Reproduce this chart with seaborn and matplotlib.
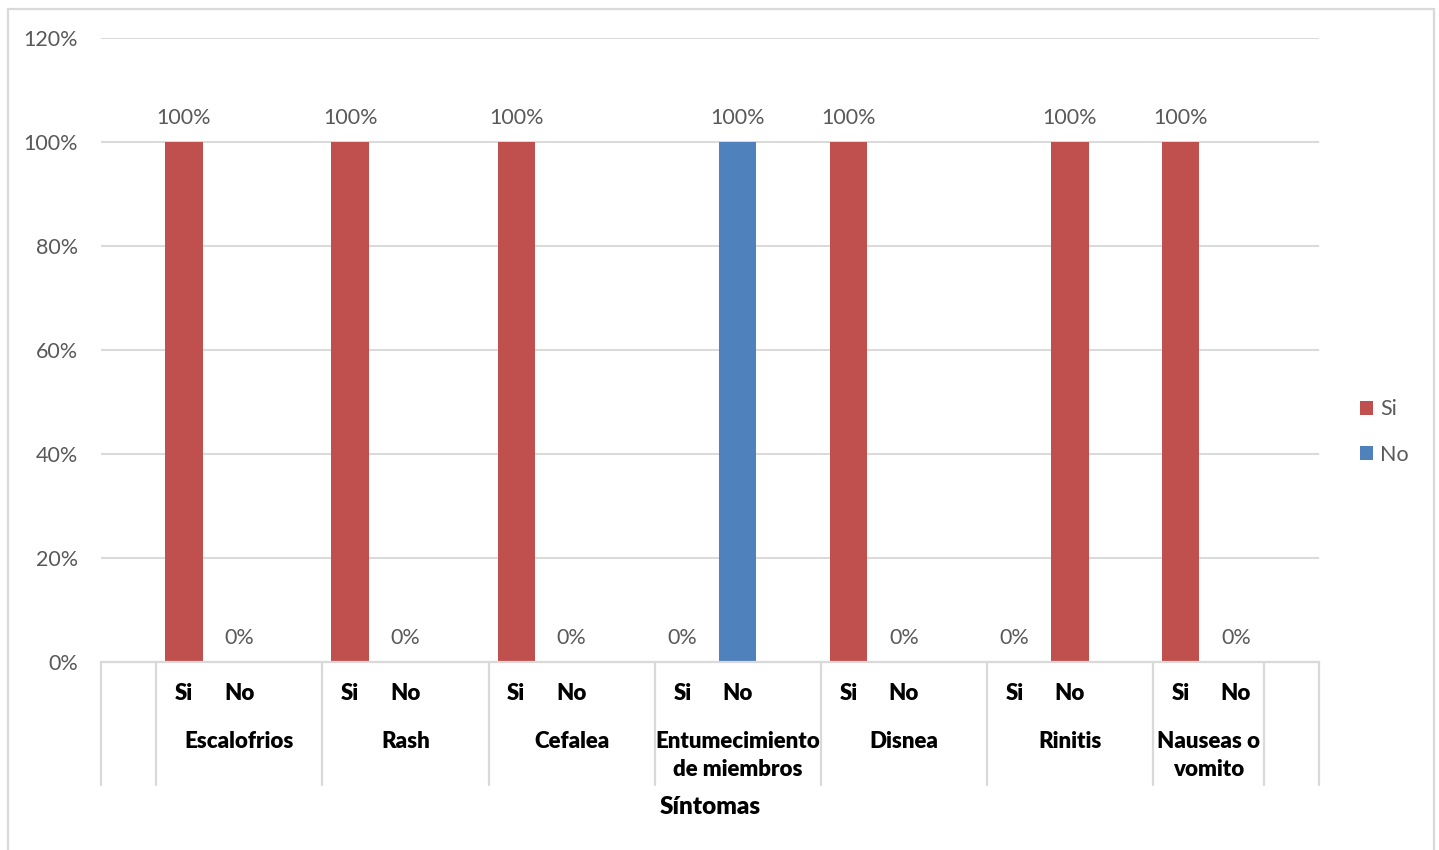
import matplotlib
matplotlib.use("Agg")
import matplotlib.pyplot as plt
import matplotlib.transforms as mtransforms
from matplotlib.patches import Patch, Rectangle
from matplotlib.lines import Line2D
import pandas as pd
import seaborn as sns

# ---- data ---------------------------------------------------------------
sintomas = ["Escalofrios", "Rash", "Cefalea", "Entumecimiento\nde miembros",
            "Disnea", "Rinitis", "Nauseas o\nvomito"]
respuestas = ["Si", "No"]
# percentage for every (síntoma, respuesta) pair, one list per series
serie_si = [100, 0, 100, 0, 100, 0, 0, 0, 100, 0, 0, 100, 100, 0]
serie_no = [0, 0, 0, 0, 0, 0, 0, 100, 0, 0, 0, 0, 0, 0]
y_ticks = [0, 20, 40, 60, 80, 100, 120]
series = ["Si", "No"]
colores = {"Si": "#C0504D", "No": "#4F81BD"}

# ---- layout helpers -----------------------------------------------------
W, H = 1439, 850
AX_L, AX_R, AX_T, AX_B = 101, 1319, 38, 662
N_SLOTS = 22  # one blank slot before each group and one at the end


def slot_of(i, j):
    return 1 + 3 * i + j


rows = []
for i, s in enumerate(sintomas):
    for j, r in enumerate(respuestas):
        k = 2 * i + j
        rows.append({"pos": slot_of(i, j), "serie": "Si", "valor": serie_si[k]})
        rows.append({"pos": slot_of(i, j), "serie": "No", "valor": serie_no[k]})
df = pd.DataFrame(rows)

sns.set_theme(style="white")
plt.rcParams["font.family"] = ["Lato", "DejaVu Sans"]

GRIS_TXT = "#595959"
GRIS_LIN = "#D9D9D9"
FS = 15.5      # regular labels
FS_B = 16      # bold category labels
PESO = "heavy"

fig = plt.figure(figsize=(W / 100, H / 100), dpi=100)
ax = fig.add_axes([AX_L / W, 1 - AX_B / H, (AX_R - AX_L) / W, (AX_B - AX_T) / H])

sns.barplot(data=df, x="pos", y="valor", hue="serie", hue_order=series,
            palette=colores, dodge=False, native_scale=True, width=0.674,
            saturation=1, legend=False, ax=ax, errorbar=None, linewidth=0)

ax.set_xlim(-0.5, N_SLOTS - 0.5)
ax.set_ylim(0, 120)
ax.set_yticks(y_ticks)
ax.set_yticklabels([f"{v}%" for v in y_ticks], color=GRIS_TXT, fontsize=FS)
ax.tick_params(axis="y", length=0, pad=16.5)
ax.set_xticks([])
ax.set_xlabel("")
ax.set_ylabel("")
ax.yaxis.grid(True, color=GRIS_LIN, linewidth=1.4)
ax.set_axisbelow(True)
for side in ["left", "right", "top"]:
    ax.spines[side].set_visible(False)
ax.spines["bottom"].set_color(GRIS_LIN)
ax.spines["bottom"].set_linewidth(1.6)

# value labels above each sub-category
for i in range(len(sintomas)):
    for j in range(len(respuestas)):
        k = 2 * i + j
        v = serie_si[k] + serie_no[k]
        ax.text(slot_of(i, j), v + 4.6, f"{v}%", ha="center", va="center",
                fontsize=FS, color=GRIS_TXT)


def ay(py):
    """Pixel row below the plot to axes-fraction y."""
    return (AX_B - py) / (AX_B - AX_T)


trans = mtransforms.blended_transform_factory(ax.transData, ax.transAxes)

# group boundaries of the two-level category axis
bordes = [slot_of(i, 0) - 0.5 for i in range(len(sintomas))] + \
    [slot_of(len(sintomas) - 1, 1) + 0.5]
separadores = [-0.5] + bordes + [N_SLOTS - 0.5]

for i, s in enumerate(sintomas):
    for j, r in enumerate(respuestas):
        ax.text(slot_of(i, j), ay(694), r, transform=trans, ha="center",
                va="center", fontsize=FS_B, fontweight=PESO, color="black")
    centro = (bordes[i] + bordes[i + 1]) / 2
    for n, linea in enumerate(s.split("\n")):
        ax.text(centro, ay(741 + 29 * n), linea, transform=trans, ha="center",
                va="center", fontsize=FS_B, fontweight=PESO, color="black")

for xs in separadores:
    ax.add_line(Line2D([xs, xs], [0, ay(785)], transform=trans, color=GRIS_LIN,
                       linewidth=1.6, clip_on=False))

ax.text(0.5, ay(807), "Síntomas", transform=ax.transAxes, ha="center",
        va="center", fontsize=17.5, fontweight=PESO, color="black")

# legend
handles = [Patch(facecolor=colores[s], edgecolor="none", label=s) for s in series]
fig.legend(handles=handles, loc="center left",
           bbox_to_anchor=(1360 / W, 1 - 432 / H), frameon=False,
           fontsize=FS, labelcolor=GRIS_TXT, handlelength=0.6,
           handleheight=0.6, handletextpad=0.35, labelspacing=1.18,
           borderpad=0, borderaxespad=0)

# chart-area border
fig.patches.append(Rectangle((8 / W, -0.05), (1434 - 8) / W, 1.05 - 9 / H,
                             transform=fig.transFigure, fill=False,
                             edgecolor=GRIS_LIN, linewidth=1.6))

fig.savefig("out.png", dpi=100)
